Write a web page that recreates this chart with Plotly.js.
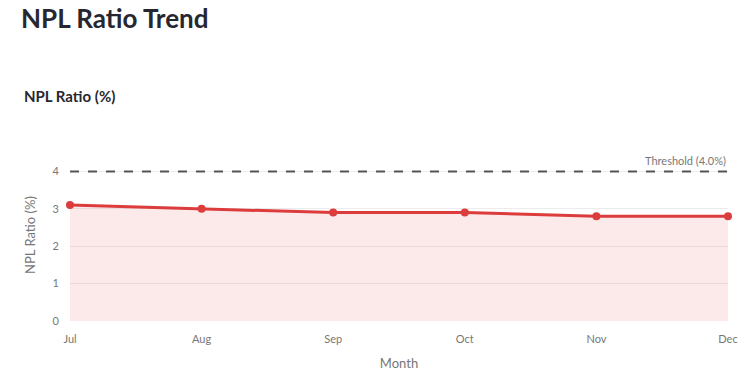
<!DOCTYPE html>
<html><head><meta charset="utf-8">
<script src="https://cdn.plot.ly/plotly-3.0.1.min.js"></script>
<style>html,body{margin:0;padding:0;background:#fff;}#c{width:749px;height:380px;}</style>
</head><body><div id="c"></div>
<script>
const months = ["Jul","Aug","Sep","Oct","Nov","Dec"];
const nplRatio = [3.1, 3.0, 2.9, 2.9, 2.8, 2.8];
const threshold = 4.0;
const thresholdLabel = "Threshold (4.0%)";
const pageTitle = "NPL Ratio Trend";
const chartTitle = "NPL Ratio (%)";
const yTicks = [0,1,2,3,4];

const font = "'Source Sans Pro', Lato, 'Noto Sans', sans-serif";
const trace = {
  x: months, y: nplRatio, type: "scatter", mode: "lines+markers",
  line: {color: "#dc3c3c", width: 3},
  marker: {color: "#dc3c3c", size: 8},
  fill: "tozeroy", fillcolor: "rgba(230,60,70,0.11)",
  showlegend: false, cliponaxis: false
};
const layout = {
  width: 749, height: 380,
  margin: {l: 70, r: 21, t: 149, b: 59},
  paper_bgcolor: "#fff", plot_bgcolor: "#fff",
  font: {family: font, color: "#777"},
  title: {text: "<b>" + chartTitle + "</b>", xref: "container", x: 24/749, y: 1 - 97/380,
          xanchor: "left", yanchor: "middle",
          font: {size: 15, color: "#262730", family: font}},
  xaxis: {type: "category", range: [0, 5], showgrid: false, zeroline: false,
          tickfont: {size: 11, color: "#777"}, ticklabelstandoff: 10,
          title: {text: "Month", font: {size: 13, color: "#777"}, standoff: 14},
          fixedrange: true},
  yaxis: {range: [0, 4.6], tickvals: yTicks, gridcolor: "#ececec", zeroline: false,
          tickfont: {size: 11, color: "#777"}, ticklabelstandoff: 10,
          title: {text: "NPL Ratio (%)", font: {size: 13, color: "#777"}, standoff: 14},
          fixedrange: true},
  shapes: [{type: "line", xref: "x", yref: "y", x0: months[0], x1: months[months.length-1],
            y0: threshold, y1: threshold, line: {color: "#555", width: 2, dash: "dash"}}],
  annotations: [
    {xref: "x", yref: "y", x: months[months.length-1], y: threshold, text: thresholdLabel,
     showarrow: false, xanchor: "right", yanchor: "bottom", yshift: 2,
     font: {size: 11, color: "#777"}},
    {xref: "paper", yref: "paper", x: -51/658, y: 1 + (149-18)/172, text: "<b>" + pageTitle + "</b>",
     showarrow: false, xanchor: "left", yanchor: "middle",
     font: {size: 26, color: "#262730", family: font}}
  ]
};
Plotly.newPlot("c", [trace], layout, {displayModeBar: false, staticPlot: true});
</script></body></html>
